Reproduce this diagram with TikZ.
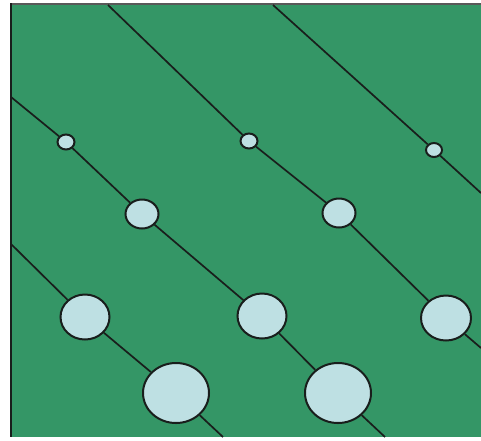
\documentclass[tikz,border=0pt]{standalone}
\usetikzlibrary{shapes.geometric}
\definecolor{field}{RGB}{52,150,102}
\definecolor{bubble}{RGB}{190,224,227}
\definecolor{ink}{RGB}{25,30,28}
\tikzset{
  bub/.style={ellipse, draw=ink, line width=2pt, fill=bubble, inner sep=0pt},
  track/.style={draw=ink, line width=1.7pt},
}
\begin{document}
\begin{tikzpicture}[x=1pt,y=-1pt]
\useasboundingbox (0,0) rectangle (481,440);
% background panel and its frame
\fill[field] (11,4) rectangle (481,437);
\draw[line width=2pt, color=black!65] (10,4) -- (481,4);
\draw[line width=2pt, color=ink] (11,3) -- (11,437);

% end points of the tracks on the panel border
\coordinate (a0) at (108,5);
\coordinate (a5) at (481,348);
\coordinate (b0) at (273,5);
\coordinate (b2) at (481,193);
\coordinate (c0) at (11,97);
\coordinate (c6) at (385,437);
\coordinate (d0) at (11,244);
\coordinate (d4) at (223,437);

% bubbles
\node[bub, minimum width=17pt, minimum height=15pt] (s1) at (66,142) {};
\node[bub, minimum width=17pt, minimum height=15pt] (s2) at (249,141) {};
\node[bub, minimum width=16pt, minimum height=14pt] (s3) at (434,150) {};
\node[bub, minimum width=33pt, minimum height=29pt] (m1) at (142,214) {};
\node[bub, minimum width=33pt, minimum height=29pt] (m2) at (339,213) {};
\node[bub, minimum width=49pt, minimum height=45pt] (l1) at (85,317) {};
\node[bub, minimum width=49pt, minimum height=45pt] (l2) at (262,316) {};
\node[bub, minimum width=50pt, minimum height=45pt] (l3) at (446,318) {};
\node[bub, minimum width=66pt, minimum height=60pt] (x1) at (176,393) {};
\node[bub, minimum width=66pt, minimum height=60pt] (x2) at (338,393) {};

% tracks joining the bubbles
\path[track] (a0) -- (s2) -- (m2) -- (l3) -- (a5);
\path[track] (b0) -- (s3) -- (b2);
\path[track] (c0) -- (s1) -- (m1) -- (l2) -- (x2) -- (c6);
\path[track] (d0) -- (l1) -- (x1) -- (d4);
\end{tikzpicture}
\end{document}
